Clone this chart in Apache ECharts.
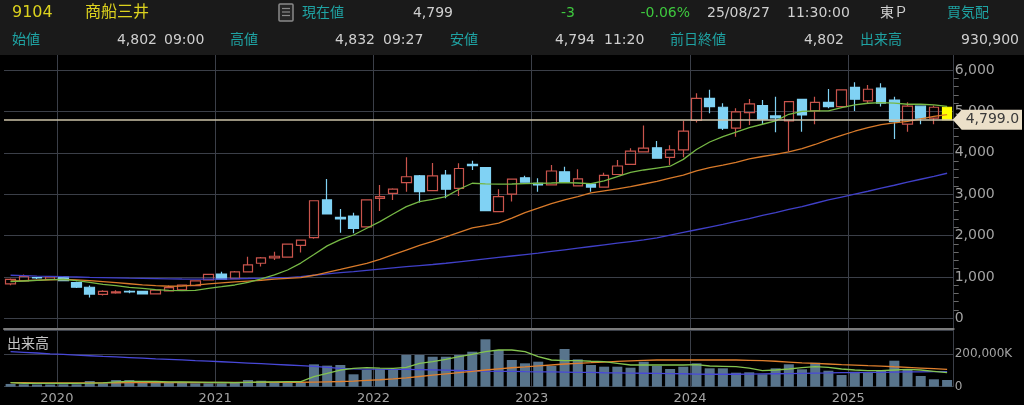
<!DOCTYPE html>
<html><head><meta charset="utf-8">
<script src="https://cdn.jsdelivr.net/npm/echarts@6/dist/echarts.min.js"></script>
<style>html,body{margin:0;padding:0;background:#000;}#c{width:1024px;height:405px;}</style>
</head><body><div id="c"></div>
<script>
const months = ['2019-09','2019-10','2019-11','2019-12',
'2020-01','2020-02','2020-03','2020-04','2020-05','2020-06','2020-07','2020-08','2020-09','2020-10','2020-11','2020-12',
'2021-01','2021-02','2021-03','2021-04','2021-05','2021-06','2021-07','2021-08','2021-09','2021-10','2021-11','2021-12',
'2022-01','2022-02','2022-03','2022-04','2022-05','2022-06','2022-07','2022-08','2022-09','2022-10','2022-11','2022-12',
'2023-01','2023-02','2023-03','2023-04','2023-05','2023-06','2023-07','2023-08','2023-09','2023-10','2023-11','2023-12',
'2024-01','2024-02','2024-03','2024-04','2024-05','2024-06','2024-07','2024-08','2024-09','2024-10','2024-11','2024-12',
'2025-01','2025-02','2025-03','2025-04','2025-05','2025-06','2025-07','2025-08'];

const open = [830,905,985,940,
1000,860,750,580,615,650,650,590,665,690,790,930,
1070,960,1120,1330,1460,1480,1760,1950,2860,2440,2470,2210,
2900,3020,3280,3445,3085,3460,3140,3720,3640,2580,3000,3395,
3260,3225,3540,3200,3245,3170,3475,3720,4020,4120,3890,4070,
4780,5315,5100,4595,4970,5140,4890,4770,5290,5010,5220,5115,
5580,5255,5560,5275,4690,5125,4835,5100];
const close = [940,1010,975,1000,
910,750,585,650,640,640,590,680,740,800,905,1060,
945,1120,1290,1460,1500,1790,1890,2840,2520,2400,2170,2860,
2940,3120,3420,3060,3440,3120,3620,3690,2600,2940,3365,3290,
3225,3560,3290,3370,3170,3455,3680,4040,4110,3870,4070,4525,
5315,5115,4595,4990,5180,4810,4840,5235,4915,5220,5115,5520,
5295,5535,5200,4750,5125,4835,5100,4799];
const low = [800,895,950,925,
895,735,500,550,595,605,575,580,655,680,780,920,
935,950,1110,1250,1410,1470,1590,1925,2510,2070,2055,2200,
2590,2860,3060,2800,3075,2900,2955,3585,2590,2570,2820,3280,
3060,3215,3280,3190,3060,3160,3465,3710,4010,3860,3705,3890,
4730,4955,4550,4390,4670,4690,4495,4030,4510,4690,5075,5105,
5010,5195,5115,4335,4510,4690,4690,4790];
const high = [960,1060,1000,1015,
1015,885,790,680,680,680,665,690,790,810,915,1070,
1126,1140,1490,1480,1610,1800,1900,2850,3365,2640,2550,2870,
3220,3140,3890,3460,3750,3585,3745,3810,3650,3120,3380,3445,
3385,3705,3665,3600,3255,3520,3825,4110,4660,4285,4180,4775,
5440,5520,5195,5075,5300,5275,5355,5250,5300,5355,5540,5530,
5705,5640,5680,5355,5220,5135,5140,5115];

const maShort = [885,901,918,933,
943,909,870,822,788,749,725,691,677,667,677,725,
764,805,870,950,1047,1167,1335,1540,1750,1900,2013,2175,
2335,2521,2697,2818,2876,2939,3118,3263,3250,3240,3245,3255,
3263,3270,3280,3270,3255,3319,3423,3528,3584,3630,3675,3840,
4080,4260,4390,4500,4607,4689,4770,4930,5000,5010,5010,5091,
5155,5197,5210,5200,5172,5172,5155,5120];
const maMid = [901,910,920,930,
940,930,910,885,860,835,810,790,775,780,800,830,
855,880,900,920,945,965,985,1040,1110,1180,1255,1330,
1425,1538,1650,1760,1860,1965,2075,2185,2240,2300,2420,2555,
2660,2770,2860,2940,3030,3080,3130,3180,3245,3310,3390,3460,
3560,3640,3700,3770,3850,3910,3960,4020,4100,4200,4320,4420,
4520,4610,4680,4720,4760,4820,4880,4920];
const maLong = [1040,1030,1020,1013,
1005,998,991,985,978,970,965,960,955,950,947,945,
948,955,962,970,980,985,1005,1040,1075,1105,1130,1160,
1190,1220,1250,1275,1300,1330,1365,1400,1435,1470,1505,1540,
1575,1615,1655,1695,1735,1775,1815,1855,1895,1945,2010,2075,
2140,2205,2270,2340,2410,2485,2555,2630,2700,2780,2860,2930,
3000,3070,3145,3215,3290,3360,3430,3505];

const volume = [17000,15000,14000,14000,
15000,15000,35000,21000,41000,41000,30000,30000,25000,25000,21000,21000,
21000,25000,41000,37000,30000,25000,25000,138000,130000,134000,76500,103000,
109000,103000,195700,195700,185000,185000,195700,216000,292600,226500,164800,144400,
154300,127800,232700,169100,134000,123500,123500,117300,154300,127800,109300,123500,
144400,113600,113600,86400,88900,76500,113600,138300,107400,148100,98800,72200,
92600,86400,96900,160500,103100,66000,45700,41400];
const volMaShort = [24700,21000,21000,21000,
21000,21000,22000,24000,30000,33000,33000,32000,30000,29000,28000,27000,
26000,25000,27000,29000,30000,31000,31000,61700,82000,103000,113600,117300,
115000,113600,119400,144400,154300,169100,185000,199300,216000,226500,226500,216000,
185000,164800,160500,160500,157000,154300,144400,134000,134000,134000,134000,134000,
136000,127800,126000,123500,115000,98800,103000,109300,117300,123500,119400,109300,
103000,98800,98800,103000,107400,103000,94800,86400];
const volMaMid = [24700,24500,24000,23500,
23000,23000,23500,24000,24500,25000,25500,26000,26000,26000,26000,26000,
26000,26000,26500,27000,27000,27000,27500,28000,30000,32000,35000,39000,
43000,48000,55000,63000,71000,79000,87000,95000,103000,110000,117000,122000,
128000,134000,140000,144400,148000,152000,156000,160000,163000,164800,164800,164800,
164800,164800,164800,164800,163000,161000,157000,152000,147000,143500,140000,136000,
133000,130000,127500,123000,119000,115000,111000,107000];
const volMaLong = [216000,212000,208000,203000,
199000,195000,191000,187000,184000,180000,176000,172000,169000,165000,161000,158000,
154000,150000,146000,142000,138000,134000,130000,125000,119000,113000,110000,109000,
108000,107500,107000,106000,104000,102000,100000,98000,96000,95000,95000,93000,
92000,91000,90000,89000,88000,86000,85000,84000,83000,82000,81000,80000,
78000,77000,77000,77000,78000,79000,80000,81000,82500,84000,85000,86500,
87500,88500,89000,90000,91000,91500,92500,93000];

const priceTicks = [0,1000,2000,3000,4000,5000,6000];
const currentPrice = 4799;

const header1 = [
  {t:'9104', x:12, c:'#dcd21e', s:16, a:'left'},
  {t:'商船三井', x:85, c:'#dcd21e', s:16, a:'left'},
  {t:'現在値', x:302, c:'#1fa3a3', s:14, a:'left'},
  {t:'4,799', x:453, c:'#cfcfcf', s:14, a:'right'},
  {t:'-3', x:575, c:'#3ec83e', s:14, a:'right'},
  {t:'-0.06%', x:690, c:'#3ec83e', s:14, a:'right'},
  {t:'25/08/27', x:707, c:'#cfcfcf', s:14, a:'left'},
  {t:'11:30:00', x:787, c:'#cfcfcf', s:14, a:'left'},
  {t:'東Ｐ', x:880, c:'#cfcfcf', s:14, a:'left'},
  {t:'買気配', x:947, c:'#1fa3a3', s:14, a:'left'}
];
const header2 = [
  {t:'始値', x:12, c:'#1fa3a3', a:'left'},
  {t:'4,802', x:157, c:'#cfcfcf', a:'right'},
  {t:'09:00', x:164, c:'#cfcfcf', a:'left'},
  {t:'高値', x:230, c:'#1fa3a3', a:'left'},
  {t:'4,832', x:375, c:'#cfcfcf', a:'right'},
  {t:'09:27', x:383, c:'#cfcfcf', a:'left'},
  {t:'安値', x:450, c:'#1fa3a3', a:'left'},
  {t:'4,794', x:595, c:'#cfcfcf', a:'right'},
  {t:'11:20', x:604, c:'#cfcfcf', a:'left'},
  {t:'前日終値', x:670, c:'#1fa3a3', a:'left'},
  {t:'4,802', x:844, c:'#cfcfcf', a:'right'},
  {t:'出来高', x:860, c:'#1fa3a3', a:'left'},
  {t:'930,900', x:1019, c:'#cfcfcf', a:'right'}
];

const FONT = '"DejaVu Sans", "Noto Sans CJK JP", sans-serif';
const GRIDC = '#3b3f48';
const L = 4, R = 70.3;
const isJan = (i) => months[i].slice(5) === '01';

const candleData = months.map((m, i) => {
  const v = [open[i], close[i], low[i], high[i]];
  if (i === months.length - 1) {
    return {value: v, itemStyle: {color:'#ffff00', color0:'#ffff00', borderColor:'#ffff00', borderColor0:'#ffff00'}};
  }
  return v;
});

const chart = echarts.init(document.getElementById('c'), null, {renderer:'canvas'});

const lineS = (name, data, color, xi, yi, w) => ({
  name, type:'line', data, xAxisIndex:xi, yAxisIndex:yi, symbol:'none', z:4,
  lineStyle:{color, width:w}, itemStyle:{color}, silent:true, animation:false
});

const option = {
  backgroundColor:'#000',
  animation:false,
  textStyle:{fontFamily:FONT},
  grid:[
    {left:L, right:R, top:55, bottom:76},
    {left:L, right:R, top:70, height:248.3},
    {left:L, right:R, top:330, bottom:18.3}
  ],
  xAxis:[
    {gridIndex:0, type:'category', data:months, boundaryGap:true,
     axisLine:{show:true, lineStyle:{color:'#7c7c7c', width:2}}, axisTick:{show:false}, axisLabel:{show:false},
     splitLine:{show:true, interval:(i)=>isJan(i), lineStyle:{color:GRIDC, width:1}}},
    {gridIndex:1, type:'category', data:months, boundaryGap:true,
     axisLine:{show:false}, axisTick:{show:false}, axisLabel:{show:false}, splitLine:{show:false}},
    {gridIndex:2, type:'category', data:months, boundaryGap:true,
     axisLine:{show:false}, axisTick:{show:false},
     axisLabel:{show:true, interval:(i)=>isJan(i), formatter:(v)=>v.slice(0,4), color:'#a3a3a3', fontSize:13, fontFamily:FONT, margin:5, padding:[0,13,0,0], align:'center'},
     splitLine:{show:true, interval:(i)=>isJan(i), lineStyle:{color:GRIDC, width:1}}}
  ],
  yAxis:[
    {gridIndex:0, type:'value', show:false, min:0, max:1, splitLine:{show:false}},
    {gridIndex:1, type:'value', position:'right', min:priceTicks[0], max:priceTicks[priceTicks.length-1], interval:1000,
     axisLine:{show:false}, axisTick:{show:false},
     minorTick:{show:true, splitNumber:5, length:5, lineStyle:{color:'#6a6a6a'}},
     axisLabel:{color:'#a3a3a3', fontSize:14, fontFamily:FONT, margin:1, formatter:(v)=>v.toLocaleString('en-US')},
     splitLine:{show:true, lineStyle:{color:GRIDC, width:1}}},
    {gridIndex:2, type:'value', position:'right', min:0, max:350000, interval:200000,
     axisLine:{show:false}, axisTick:{show:false},
     axisLabel:{color:'#a3a3a3', fontSize:12, fontFamily:FONT, margin:1,
       formatter:(v)=> v===0 ? '0' : (v===200000 ? '200,000K' : '')},
     splitLine:{show:true, lineStyle:{color:GRIDC, width:1}}}
  ],
  series:[
    {type:'candlestick', xAxisIndex:1, yAxisIndex:1, data:candleData, barWidth:10, z:2,
     itemStyle:{color:'rgba(0,0,0,0)', color0:'#80d2f4', borderColor:'#c9544c', borderColor0:'#80d2f4', borderWidth:1.2},
     markLine:{symbol:'none', silent:true, animation:false, data:[{yAxis:currentPrice}],
       lineStyle:{color:'#cdc3a8', width:1.5, type:'solid'}, label:{show:false}, emphasis:{disabled:true}}},
    lineS('ma-long', maLong, '#4040c8', 1, 1, 1.3),
    lineS('ma-mid', maMid, '#d87a2a', 1, 1, 1.3),
    lineS('ma-short', maShort, '#76b845', 1, 1, 1.3),
    {type:'bar', xAxisIndex:2, yAxisIndex:2, data:volume, barWidth:10, itemStyle:{color:'#58748c'}, silent:true, z:2},
    lineS('vma-long', volMaLong, '#4848d8', 2, 2, 1.3),
    lineS('vma-mid', volMaMid, '#e0802e', 2, 2, 1.3),
    lineS('vma-short', volMaShort, '#84c450', 2, 2, 1.3)
  ]
};
chart.setOption(option);

const py = chart.convertToPixel({yAxisIndex:1}, currentPrice);
const tipX = 1024 - R - 1;
const g = [];
g.push({type:'rect', shape:{x:0, y:0, width:1024, height:55}, style:{fill:'#1a1a1a'}, z:0, silent:true});
header1.forEach(h => g.push({type:'text', x:h.x, y:13, z:10, silent:true,
  style:{text:h.t, fill:h.c, font:h.s + 'px ' + FONT, align:h.a, verticalAlign:'middle'}}));
header2.forEach(h => g.push({type:'text', x:h.x, y:40, z:10, silent:true,
  style:{text:h.t, fill:h.c, font:'14px ' + FONT, align:h.a, verticalAlign:'middle'}}));
g.push({type:'rect', shape:{x:279, y:4, width:14, height:17, r:1}, style:{fill:'#262626', stroke:'#8a8a8a', lineWidth:1.5}, z:10, silent:true});
[8.5, 12, 15.5].forEach(yy => g.push({type:'line', shape:{x1:282, y1:yy, x2:290, y2:yy}, style:{stroke:'#8a8a8a', lineWidth:1.2}, z:11, silent:true}));
g.push({type:'text', x:7, y:343, z:10, silent:true, style:{text:'出来高', fill:'#c6c6c6', font:'14px "Noto Sans CJK JP", sans-serif', align:'left', verticalAlign:'middle'}});
g.push({type:'polygon', shape:{points:[[tipX, py], [tipX+9, py-10], [1022, py-10], [1022, py+10], [tipX+9, py+10]]},
  style:{fill:'#ebe0c9'}, z:20, silent:true});
g.push({type:'text', x:tipX+13, y:py, z:21, silent:true,
  style:{text:currentPrice.toLocaleString('en-US', {minimumFractionDigits:1}), fill:'#3a3a3a', font:'14px ' + FONT, align:'left', verticalAlign:'middle'}});
chart.setOption({graphic:g});
</script>
</body></html>
